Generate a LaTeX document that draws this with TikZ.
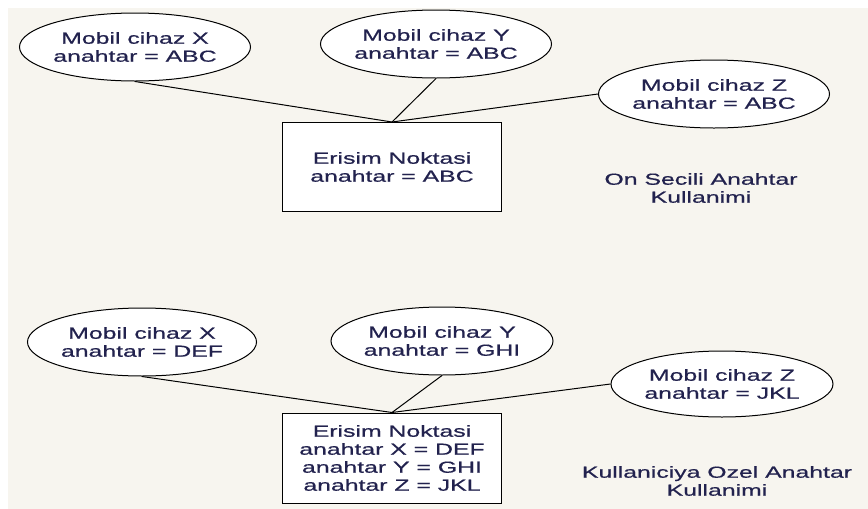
\documentclass[tikz,border=0pt]{standalone}
\usepackage{fontspec}
\usepackage{tikz}
\usetikzlibrary{shapes.geometric}
\newfontfamily\diagfont[FakeStretch=1.55,FakeBold=0.6]{Liberation Sans}
\definecolor{bgcream}{HTML}{F7F5EF}
\definecolor{inkblue}{HTML}{22224E}

\begin{document}
\begin{tikzpicture}[x=1pt, y=-1pt,
    txt/.style={font=\diagfont\fontsize{16}{18}\selectfont, text=inkblue, align=center, inner sep=0pt},
    device/.style={txt, ellipse, draw, line width=1pt, fill=white, minimum width=222pt, minimum height=68pt},
    apbox/.style={txt, rectangle, draw, line width=1pt, fill=white, minimum width=219pt, minimum height=89pt},
    link/.style={line width=1pt}]
      \useasboundingbox (0,0) rectangle (868,509);
      \fill[white] (0,0) rectangle (868,509);
      \fill[bgcream] (8,8) rectangle (868,509);
      % on secili anahtar
      \node[name=ap1, apbox] at (392,167) {Erisim Noktasi\\anahtar = ABC};
      \node[name=mx1, device] at (135,47) {Mobil cihaz X\\anahtar = ABC};
      \node[name=my1, device] at (436,44) {Mobil cihaz Y\\anahtar = ABC};
      \node[name=mz1, device] at (714,94) {Mobil cihaz Z\\anahtar = ABC};
      \draw[link] (mx1.south) -- (ap1.north);
      \draw[link] (my1.south) -- (ap1.north);
      \draw[link] (mz1.west) -- (ap1.north);
      \node[name=lbl1, txt] at (701,188) {On Secili Anahtar\\Kullanimi};
      % kullaniciya ozel anahtar
      \node[name=ap2, apbox, minimum height=90pt] at (392,458) {Erisim Noktasi\\anahtar X = DEF\\anahtar Y = GHI\\anahtar Z = JKL};
      \node[name=mx2, device] at (142,342) {Mobil cihaz X\\anahtar = DEF};
      \node[name=my2, device] at (442,341) {Mobil cihaz Y\\anahtar = GHI};
      \node[name=mz2, device, minimum height=66pt] at (722,384) {Mobil cihaz Z\\anahtar = JKL};
      \draw[link] (mx2.south) -- (ap2.north);
      \draw[link] (my2.south) -- (ap2.north);
      \draw[link] (mz2.west) -- (ap2.north);
      \node[name=lbl2, txt] at (717,481) {Kullaniciya Ozel Anahtar\\Kullanimi};
\end{tikzpicture}
\end{document}
